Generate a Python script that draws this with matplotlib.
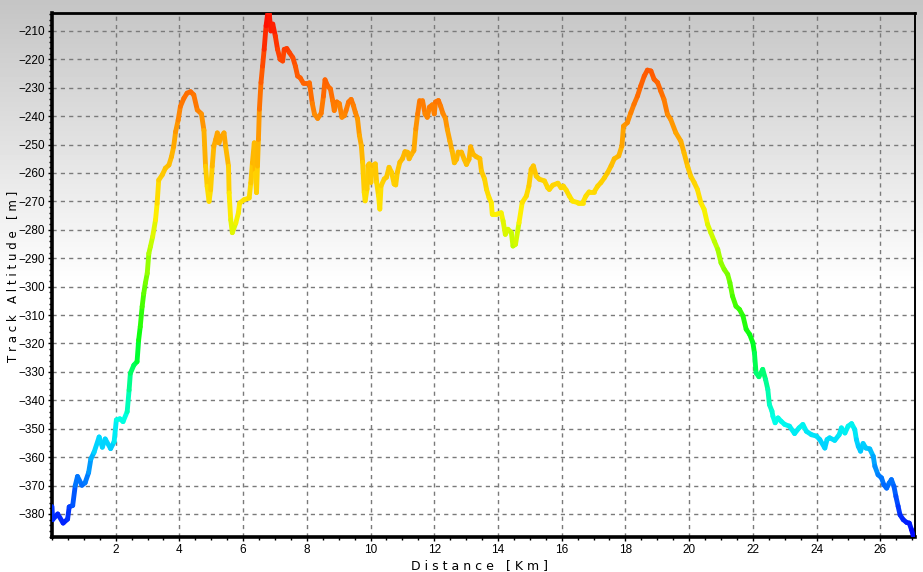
import numpy as np
import matplotlib
matplotlib.use("Agg")
import matplotlib.pyplot as plt
from matplotlib.collections import LineCollection
from matplotlib.colors import LinearSegmentedColormap, Normalize
from matplotlib.ticker import MultipleLocator

# track profile (km, m)
dist = [
    0.00, 0.02, 0.18, 0.35, 0.49, 0.54, 0.65, 0.73, 0.80, 0.94, 1.04, 1.15, 1.22, 1.32, 1.48, 1.58, 1.67, 1.84, 1.95, 2.02, 2.13, 2.23, 2.36, 2.42,
    2.46, 2.57, 2.67, 2.72, 2.77, 2.83, 2.88, 2.93, 2.99, 3.04, 3.09, 3.16, 3.25, 3.30, 3.35, 3.46, 3.56, 3.67, 3.75, 3.82, 3.88, 3.96, 4.03, 4.14, 4.24, 4.35, 4.45,
    4.56, 4.69, 4.77, 4.82, 4.87, 4.93, 4.98, 5.03, 5.08, 5.14, 5.19, 5.24, 5.33, 5.40, 5.45, 5.54, 5.56, 5.61, 5.66, 5.77, 5.85, 5.89, 6.03, 6.19, 6.24, 6.29, 6.35, 6.38, 6.42, 6.45, 6.48, 6.51,
    6.56, 6.61, 6.66, 6.72, 6.77, 6.82, 6.87, 6.93, 7.01, 7.08, 7.16, 7.24, 7.29, 7.37, 7.45, 7.56, 7.64, 7.71, 7.79, 7.88, 8.08,
    8.17, 8.24, 8.34, 8.45, 8.52, 8.57, 8.66, 8.74, 8.81, 8.86, 8.94, 9.02, 9.10, 9.18, 9.23, 9.31, 9.39, 9.46, 9.52, 9.59, 9.65, 9.71, 9.75, 9.80, 9.83, 9.89, 9.92, 9.96,
    10.01, 10.06, 10.15, 10.19, 10.25, 10.29, 10.33, 10.43, 10.50, 10.58, 10.66, 10.74, 10.79, 10.84, 10.92, 11.00, 11.08, 11.16, 11.21, 11.29, 11.36, 11.42, 11.48, 11.54, 11.63, 11.71, 11.78, 11.85, 11.94, 12.00,
    12.04, 12.13, 12.20, 12.27, 12.35, 12.41, 12.49, 12.56, 12.63, 12.70, 12.75, 12.85, 12.94, 13.01, 13.09, 13.14, 13.22, 13.32, 13.43, 13.48, 13.58, 13.64, 13.72, 13.79, 13.82, 13.95, 14.10,
    14.16, 14.23, 14.31, 14.42, 14.47, 14.55, 14.66, 14.76, 14.89, 14.97, 15.04, 15.11, 15.20, 15.30, 15.46, 15.56, 15.61, 15.72, 15.88, 15.98, 16.05, 16.14,
    16.24, 16.34, 16.50, 16.66, 16.76, 16.86, 17.02, 17.13, 17.23, 17.34, 17.44, 17.55, 17.65, 17.79, 17.89, 17.94, 18.06,
    18.17, 18.27, 18.38, 18.48, 18.59, 18.69, 18.80, 18.90, 19.01, 19.11, 19.21, 19.32, 19.42, 19.58, 19.74, 19.84, 19.95, 20.05,
    20.16, 20.26, 20.37, 20.47, 20.58, 20.68, 20.79, 20.90, 21.00, 21.10, 21.21, 21.28, 21.36, 21.47, 21.58, 21.69, 21.79, 21.90, 22.00,
    22.05, 22.10, 22.19, 22.31, 22.40, 22.47, 22.52, 22.60, 22.63, 22.70, 22.79, 22.89, 23.00, 23.15, 23.31, 23.45, 23.57, 23.68, 23.84, 24.00,
    24.10, 24.26, 24.33, 24.41, 24.57, 24.71, 24.78, 24.89, 24.99, 25.10, 25.20, 25.25, 25.31, 25.38, 25.46, 25.55, 25.67, 25.78, 25.83,
    25.93, 26.04, 26.11, 26.20, 26.28, 26.35, 26.43, 26.49, 26.56, 26.62, 26.72, 26.83, 26.91, 26.98, 27.04,
]
alt = [
    -377.4, -382.0, -380.0, -383.2, -381.8, -377.5, -377.0, -370.0, -366.8, -369.9, -369.0, -365.4, -360.6, -358.3, -352.9, -356.5, -353.6, -357.0, -354.6, -346.9, -346.5, -347.5, -344.0, -336.4,
    -330.5, -327.6, -326.4, -318.8, -314.1, -307.0, -302.4, -298.8, -295.3, -288.3, -285.9, -282.4, -276.5, -270.7, -262.5, -260.7, -258.3, -257.2, -254.3, -250.7, -245.5, -241.4, -236.6, -233.7, -231.9, -231.4, -232.5,
    -237.8, -239.2, -245.0, -257.6, -264.7, -270.0, -265.9, -257.6, -250.6, -248.2, -245.9, -249.4, -247.0, -245.9, -250.6, -257.6, -267.0, -276.5, -281.0, -277.6, -274.1, -270.6, -269.4, -268.8, -263.5, -256.5, -249.4, -260.0, -266.9, -257.6, -248.2, -237.6,
    -228.2, -222.4, -216.5, -208.2, -204.0, -204.0, -210.0, -207.6, -211.8, -216.5, -220.0, -220.6, -216.5, -216.2, -217.6, -219.4, -222.4, -225.9, -226.5, -228.2, -228.2,
    -235.5, -239.3, -240.8, -239.0, -233.0, -227.2, -229.5, -230.4, -234.5, -238.0, -235.0, -235.6, -240.4, -239.8, -238.0, -235.0, -234.1, -236.2, -238.6, -240.9, -246.8, -250.4, -256.2, -266.8, -269.8, -265.6, -257.4, -256.8,
    -263.3, -257.4, -256.8, -263.3, -268.0, -272.7, -264.5, -262.1, -261.5, -258.0, -259.8, -263.9, -264.2, -259.8, -256.2, -255.0, -252.5, -252.7, -255.0, -253.3, -252.1, -244.5, -239.2, -234.5, -234.5, -239.2, -240.4, -236.8, -236.0, -239.2,
    -235.0, -234.5, -236.5, -239.0, -240.8, -244.7, -248.8, -252.3, -256.4, -255.2, -252.6, -252.6, -255.2, -257.0, -255.2, -250.8, -253.4, -254.3, -254.9, -259.3, -262.2, -265.8, -268.7, -270.4, -274.5, -274.5, -274.0,
    -276.9, -281.6, -279.8, -281.0, -285.7, -285.1, -277.5, -270.4, -268.1, -264.6, -258.7, -257.5, -261.1, -262.2, -262.8, -265.2, -265.8, -264.3, -263.6, -265.2, -264.6, -266.0,
    -268.1, -269.9, -270.4, -270.4, -268.1, -266.6, -266.6, -264.6, -263.4, -261.7, -259.9, -257.5, -255.0, -254.0, -250.5, -243.5, -242.3,
    -238.8, -235.8, -232.9, -229.4, -225.9, -223.8, -224.1, -227.0, -228.2, -231.2, -234.1, -239.4, -241.1, -245.8, -248.8, -252.9, -257.6, -261.1,
    -263.4, -265.8, -270.5, -272.8, -278.1, -281.0, -284.0, -286.9, -291.6, -293.9, -295.7, -298.6, -303.3, -306.9, -308.0, -310.3, -315.0, -316.8, -319.7,
    -323.3, -330.3, -331.7, -329.1, -332.7, -336.2, -341.5, -343.8, -345.6, -347.9, -346.2, -347.4, -348.5, -349.1, -351.7, -349.7, -348.5, -350.9, -352.1, -352.6,
    -353.8, -356.8, -353.8, -353.2, -354.1, -352.1, -349.7, -351.5, -349.1, -348.2, -350.3, -353.8, -356.2, -357.9, -355.2, -356.8, -357.1, -359.7, -363.2,
    -366.2, -367.3, -369.7, -370.9, -369.1, -367.9, -370.3, -373.8, -377.3, -380.3, -382.0, -383.0, -383.2, -385.5, -387.9,
]

xticks = list(range(2, 27, 2))
yticks = list(range(-380, -209, 10))

# altitude colours: blue low -> red high
cmap = LinearSegmentedColormap.from_list("alt", [
    (0.00, (0.00, 0.02, 1.00)),
    (0.10, (0.00, 0.43, 1.00)),
    (0.18, (0.00, 0.85, 1.00)),
    (0.22, (0.00, 1.00, 0.92)),
    (0.29, (0.00, 1.00, 0.58)),
    (0.37, (0.00, 1.00, 0.08)),
    (0.45, (0.28, 1.00, 0.00)),
    (0.56, (0.75, 1.00, 0.00)),
    (0.62, (1.00, 0.94, 0.00)),
    (0.70, (1.00, 0.78, 0.00)),
    (0.78, (1.00, 0.62, 0.00)),
    (0.83, (1.00, 0.47, 0.00)),
    (0.91, (1.00, 0.31, 0.00)),
    (1.00, (1.00, 0.04, 0.00)),
])
norm = Normalize(-388, -204)

fig = plt.figure(figsize=(9.23, 5.72), dpi=100)

# grey-to-white backdrop for the whole window
bg = fig.add_axes([0, 0, 1, 1], zorder=0)
rows = np.linspace(0, 1, 572)
shade = np.clip(0.77 + 0.23 * rows / 0.5, 0, 1)
bg.imshow(shade[:, None], cmap="gray", vmin=0, vmax=1, aspect="auto", extent=[0, 1, 0, 1])
bg.axis("off")

ax = fig.add_axes([52 / 923, 35 / 572, 863 / 923, 524 / 572], zorder=1)
ax.patch.set_alpha(0)

pts = np.column_stack([dist, alt])
segs = np.stack([pts[:-1], pts[1:]], axis=1)
mid = (np.array(alt[:-1]) + np.array(alt[1:])) / 2
lc = LineCollection(segs, colors=cmap(norm(mid)), linewidths=3.5, capstyle="round", joinstyle="round", zorder=3)
ax.add_collection(lc)

ax.set_xlim(0, 27.09)
ax.set_ylim(-388.1, -203.7)
ax.set_xticks(xticks)
ax.set_yticks(yticks)
ax.xaxis.set_minor_locator(MultipleLocator(0.5))
ax.yaxis.set_minor_locator(MultipleLocator(2))
ax.grid(True, color="#7a7a7a", linestyle=(0, (3, 3)), linewidth=1)
ax.set_axisbelow(True)

for lab in ax.get_xticklabels() + ax.get_yticklabels():
    lab.set_fontfamily("Liberation Sans")
ax.tick_params(which="both", direction="out", length=3, width=1, labelsize=8.5, pad=2)
ax.tick_params(which="minor", length=2)

ax.spines["left"].set_linewidth(2.6)
ax.spines["bottom"].set_linewidth(2.6)
ax.spines["top"].set_linewidth(2)
ax.spines["right"].set_linewidth(1.4)

fig.text(13 / 923, 1 - 276 / 572, "T r a c k   A l t i t u d e   [ m ]", rotation=90,
         ha="center", va="center", fontsize=8.5, family="DejaVu Sans")
fig.text(480 / 923, 1 - 566 / 572, "D i s t a n c e   [ K m ]",
         ha="center", va="center", fontsize=9, family="DejaVu Sans")

fig.savefig("out.png", dpi=100)
